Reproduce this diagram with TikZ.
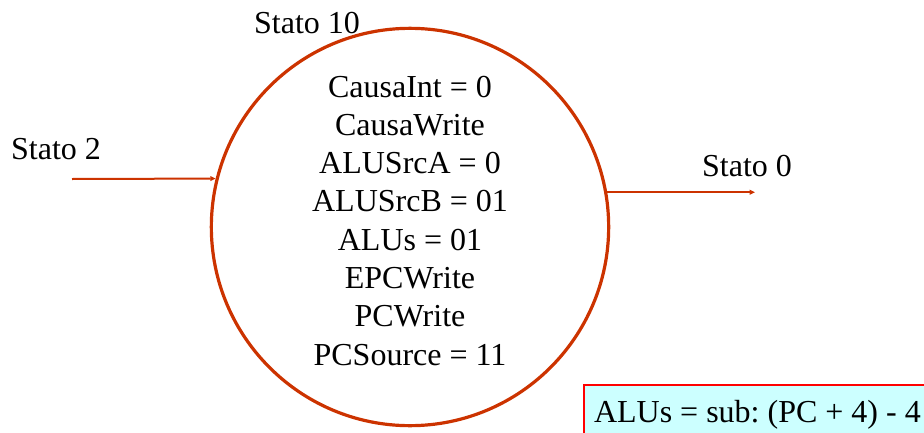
\documentclass[tikz,border=0pt]{standalone}
\usepackage{fontspec}
\setmainfont{Liberation Serif}
\usetikzlibrary{arrows.meta, positioning, shapes.geometric}
\definecolor{statorosso}{RGB}{204, 51, 0}
\definecolor{notarossa}{RGB}{255, 0, 0}
\definecolor{notaciano}{RGB}{204, 255, 255}
\frenchspacing

\begin{document}
\begin{tikzpicture}[x=0.75pt, y=-0.75pt,
    testo/.style={font=\fontsize{24}{28.8}\selectfont, inner sep=0pt},
    stato/.style={circle, draw=statorosso, line width=2.4pt, minimum size=298pt, inner sep=0pt},
    freccia/.style={-{Triangle[length=4pt, width=3.5pt]}, statorosso, line width=1.5pt},
    nota/.style={draw=notarossa, line width=1.5pt, fill=notaciano,
      inner xsep=7.5pt, inner ysep=9.75pt, text height=18pt, text depth=6pt,
      font=\fontsize{24}{28.8}\selectfont}]
        \useasboundingbox (0,0) rectangle (924,432);
        \clip (0,0) rectangle (924,432);

        % Stato 10
        \node[stato] (s10) at (410,227) {};
        \node[testo, anchor=base] (nome10) at (307,33) {Stato 10};

        % Segnali dello stato
        \foreach \riga [count=\i] in {CausaInt = 0, CausaWrite, ALUSrcA = 0, ALUSrcB = 01,
            ALUs = 01, EPCWrite, PCWrite, PCSource = 11}
          \node[testo, anchor=base] (riga\i) at (410, {97+38.3*(\i-1)}) {\riga};

        % Ingresso da Stato 2
        \node[testo, anchor=base] (nome2) at (56,159) {Stato 2};
        \coordinate (da2) at (72,179);
        \draw[freccia] (da2) -- (s10.166);

        % Uscita verso Stato 0
        \node[testo, anchor=base] (nome0) at (747,176) {Stato 0};
        \coordinate (a0) at (755,192);
        \draw[freccia] (s10.10) -- (s10.10 -| a0);

        % Nota
        \node[nota, anchor=base west] (nota) at (583,422) {ALUs = sub: (PC + 4) - 4};
      \end{tikzpicture}
\end{document}
